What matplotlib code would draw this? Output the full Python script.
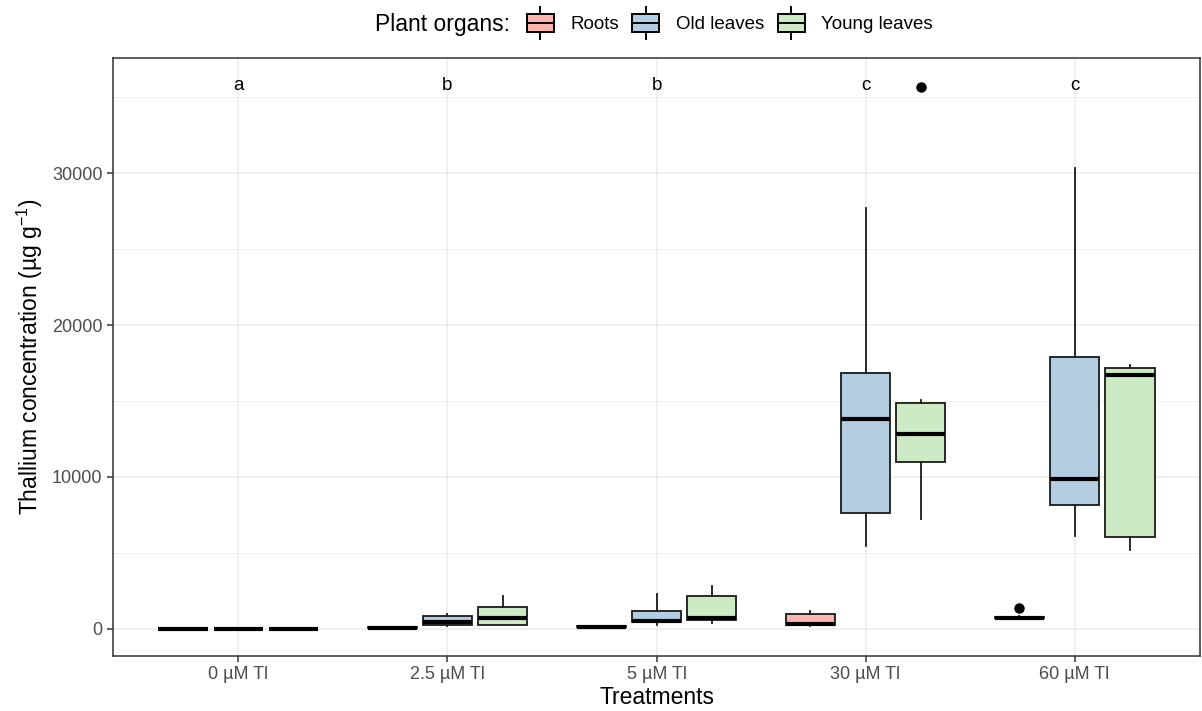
import matplotlib.pyplot as plt
from matplotlib.legend_handler import HandlerBase
from matplotlib.patches import Rectangle
from matplotlib.lines import Line2D

plt.rcParams['font.family'] = ['Liberation Sans', 'DejaVu Sans']
plt.rcParams['mathtext.fontset'] = 'custom'
plt.rcParams['mathtext.rm'] = 'Liberation Sans'
plt.rcParams['mathtext.it'] = 'Liberation Sans:italic'

# data (µg g-1)
treatments = ['0 µM Tl', '2.5 µM Tl', '5 µM Tl', '30 µM Tl', '60 µM Tl']
organs = ['Roots', 'Old leaves', 'Young leaves']
colors = ['#FBB4AE', '#B3CDE3', '#CCEBC5']
letters = ['a', 'b', 'b', 'c', 'c']
letter_y = 35800

# per organ, one value per treatment
roots_q1 = [5, 40, 120, 220, 680]
roots_med = [10, 80, 150, 330, 740]
roots_q3 = [15, 110, 180, 985, 800]
roots_lo = [5, 30, 100, 200, 640]
roots_hi = [15, 130, 200, 1200, 830]
roots_out = [[], [], [], [], [1400]]

old_q1 = [5, 260, 420, 7640, 8160]
old_med = [10, 420, 520, 13790, 9850]
old_q3 = [15, 850, 1200, 16830, 17925]
old_lo = [5, 200, 260, 5470, 6100]
old_hi = [15, 980, 2300, 27700, 30330]
old_out = [[], [], [], [], []]

young_q1 = [5, 260, 600, 10990, 6060]
young_med = [10, 720, 720, 12850, 16740]
young_q3 = [15, 1450, 2170, 14890, 17160]
young_lo = [5, 220, 400, 7220, 5190]
young_hi = [15, 2170, 2820, 15040, 17380]
young_out = [[], [], [], [35700], []]

series = [
    (roots_q1, roots_med, roots_q3, roots_lo, roots_hi, roots_out),
    (old_q1, old_med, old_q3, old_lo, old_hi, old_out),
    (young_q1, young_med, young_q3, young_lo, young_hi, young_out),
]


class BoxKeyHandler(HandlerBase):
    # ggplot-style boxplot legend key
    def create_artists(self, legend, orig_handle, xdescent, ydescent,
                       width, height, fontsize, trans):
        bw = width * 0.9
        x0 = (width - bw) / 2 - xdescent
        bh = height * 1.1
        y0 = -ydescent - height * 0.05
        rect = Rectangle((x0, y0), bw, bh, facecolor=orig_handle.get_facecolor(),
                         edgecolor='black', lw=1.4, transform=trans)
        cx = x0 + bw / 2
        mid = Line2D([x0, x0 + bw], [y0 + bh / 2] * 2, color='black', lw=1.4, transform=trans)
        w1 = Line2D([cx, cx], [y0 + bh, y0 + bh + height * 0.4], color='black', lw=1.4, transform=trans)
        w2 = Line2D([cx, cx], [y0, y0 - height * 0.4], color='black', lw=1.4, transform=trans)
        return [w1, w2, rect, mid]


fig = plt.figure(figsize=(12.02, 7.11), dpi=100)
ax = fig.add_axes([113 / 1202, 1 - 656 / 711, (1200 - 113) / 1202, (656 - 58) / 711])

offsets = [-0.265, 0.0, 0.265]
box_w = 0.235
for k, (q1, med, q3, lo, hi, out) in enumerate(series):
    stats = []
    for i in range(len(treatments)):
        stats.append(dict(q1=q1[i], med=med[i], q3=q3[i], whislo=lo[i],
                          whishi=hi[i], fliers=out[i]))
    pos = [i + offsets[k] for i in range(len(treatments))]
    ax.bxp(stats, positions=pos, widths=box_w, patch_artist=True,
           showcaps=False,
           boxprops=dict(facecolor=colors[k], edgecolor='#1a1a1a', lw=1.3),
           medianprops=dict(color='black', lw=3.0, solid_capstyle='butt'),
           whiskerprops=dict(color='#1a1a1a', lw=1.3),
           flierprops=dict(marker='o', markerfacecolor='black', markeredgecolor='black',
                           markersize=6.5, linestyle='none'),
           manage_ticks=False, zorder=3)

for i, lab in enumerate(letters):
    ax.text(i, letter_y, lab, ha='center', va='center', fontsize=13.5, color='black', zorder=4)

ax.set_xlim(-0.6, len(treatments) - 0.4)
ax.set_ylim(-1790, 37590)
ax.set_xticks(range(len(treatments)))
ax.set_xticklabels(treatments)
ax.set_yticks([0, 10000, 20000, 30000])
ax.set_yticks([5000, 15000, 25000, 35000], minor=True)
ax.grid(True, which='major', color='#EBEBEB', lw=1.1, zorder=0)
ax.grid(True, which='minor', axis='y', color='#EBEBEB', lw=0.6, zorder=0)
ax.set_axisbelow(True)
ax.tick_params(axis='both', which='major', labelsize=13, colors='#333333', length=4, width=1.1)
ax.tick_params(axis='y', which='minor', length=0)
ax.tick_params(axis='both', labelcolor='#4D4D4D')
for s in ax.spines.values():
    s.set_color('#333333')
    s.set_linewidth(1.1)

ax.set_xlabel('Treatments', fontsize=16.5, labelpad=2)
ax.set_ylabel('Thallium concentration (µg g$^{-1}$)', fontsize=16.5, labelpad=5)

handles = [Rectangle((0, 0), 1, 1, facecolor=c) for c in colors]
fig.text(375 / 1202, 1 - 24 / 711, 'Plant organs:', fontsize=16.5, ha='left', va='center')
leg = fig.legend(handles, organs, handler_map={Rectangle: BoxKeyHandler()},
                 loc='center left', bbox_to_anchor=(525 / 1202, 1 - 24 / 711),
                 ncol=3, frameon=False, fontsize=13.5, handlelength=1.6, handleheight=1.0,
                 handletextpad=0.8, columnspacing=0.65, borderaxespad=0, borderpad=0)

fig.savefig('out.png', dpi=100)
